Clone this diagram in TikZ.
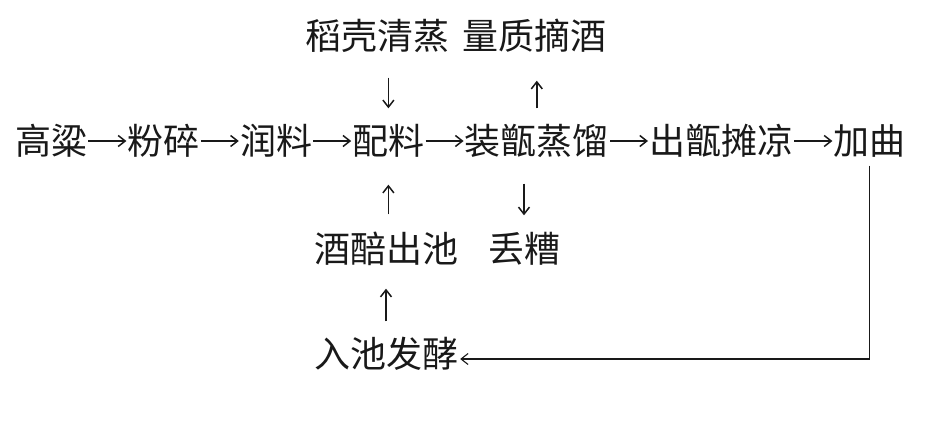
\documentclass[tikz,border=0pt]{standalone}
\usepackage{fontspec}
\newfontfamily\cjk{Noto Sans CJK SC}
\usetikzlibrary{positioning,arrows.meta}

\begin{document}
\begin{tikzpicture}[x=1pt,y=-1pt,node distance=40pt,
    stage/.style={inner sep=0pt,text=black!90,text height=30pt,text depth=3pt,
        font=\cjk\fontsize{36}{36}\selectfont},
    arr/.style={draw=black!90,line width=1.5pt,-{Straight Barb[length=7pt,width=11pt]}}]
    \useasboundingbox (0,0) rectangle (940,439);
    % main line
    \node[stage,anchor=west] (gl) at (15,141) {高粱};
    \node[stage,right=of gl] (fs) {粉碎};
    \node[stage,right=of fs] (rl) {润料};
    \node[stage,right=of rl] (pl) {配料};
    \node[stage,right=of pl] (zz) {装甑蒸馏};
    \node[stage,right=of zz] (ct) {出甑摊凉};
    \node[stage,right=of ct] (jq) {加曲};
    \foreach \a/\b in {gl/fs,fs/rl,rl/pl,pl/zz,zz/ct,ct/jq}
        \draw[arr,shorten <=1pt,shorten >=1pt] (\a.east) -- (\b.west);
    % side branches
    \node[stage] (dk) at (377,36) {稻壳清蒸};
    \node[stage] (zj) at (534,36) {量质摘酒};
    \node[stage] (jp) at (386,249) {酒醅出池};
    \node[stage] (dz) at (524,249) {丢糟};
    \node[stage] (rc) at (386,354) {入池发酵};
    \draw[arr] ([yshift=-25pt]dk.south -| pl) -- ([yshift=16pt]pl.north);
    \draw[arr] ([yshift=16pt]zz.north) -- ([yshift=-28pt]zj.south -| zz);
    \draw[arr] ([yshift=18pt]jp.north -| pl) -- ([yshift=-27pt]pl.south);
    \draw[arr] ([yshift=-26pt]zz.south -| dz) -- ([yshift=17pt]dz.north);
    \draw[arr] ([yshift=16pt]rc.north -| jp) -- ([yshift=-23pt]jp.south);
    % back to the pit
    \draw[arr,line width=1.1pt] ([yshift=-8pt]jq.south) |- ([xshift=2pt,yshift=-5pt]rc.east);
\end{tikzpicture}
\end{document}
